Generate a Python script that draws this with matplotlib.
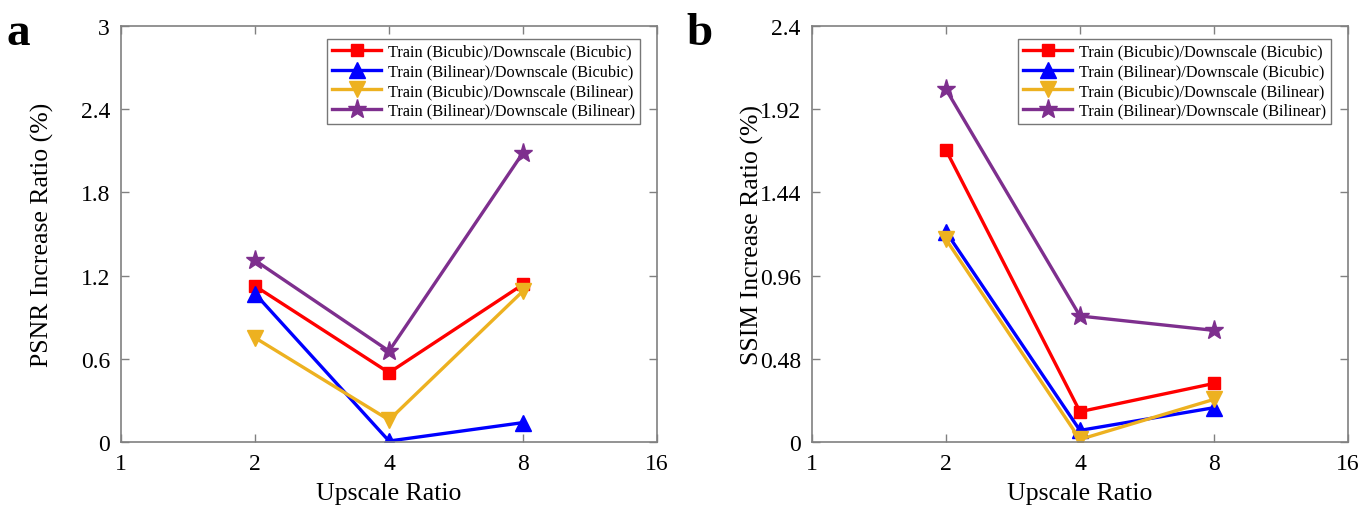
import numpy as np
import matplotlib
matplotlib.use("Agg")
import matplotlib.pyplot as plt

plt.rcParams['font.family'] = ['Liberation Serif', 'DejaVu Serif']

# upscale ratios and the increase ratios (%) for each train/downscale pairing
scales = [2, 4, 8]
series_names = [
    'Train (Bicubic)/Downscale (Bicubic)',
    'Train (Bilinear)/Downscale (Bicubic)',
    'Train (Bicubic)/Downscale (Bilinear)',
    'Train (Bilinear)/Downscale (Bilinear)',
]
psnr_bic_bic = [1.125, 0.50, 1.137]
psnr_bil_bic = [1.07, 0.007, 0.14]
psnr_bic_bil = [0.752, 0.159, 1.089]
psnr_bil_bil = [1.31, 0.656, 2.087]

ssim_bic_bic = [1.685, 0.175, 0.338]
ssim_bil_bic = [1.213, 0.067, 0.198]
ssim_bic_bil = [1.169, 0.015, 0.246]
ssim_bil_bil = [2.035, 0.727, 0.644]

x_ticks = [1, 2, 4, 8, 16]
psnr_ticks = [0, 0.6, 1.2, 1.8, 2.4, 3]
ssim_ticks = [0, 0.48, 0.96, 1.44, 1.92, 2.4]

colors = ['#FF0000', '#0000FF', '#EDB120', '#7E2F8E']
markers = ['s', '^', 'v', '*']
msizes = [9, 11, 11, 14]


def draw_panel(ax, data, yticks, ylabel, ypad):
    for vals, name, c, m, ms in zip(data, series_names, colors, markers, msizes):
        ax.plot(scales, vals, color=c, marker=m, markersize=ms, lw=2.4, label=name)
    ax.set_xscale('log', base=2)
    ax.set_xlim(1, 16)
    ax.set_xticks(x_ticks)
    ax.set_xticklabels([str(t) for t in x_ticks])
    ax.minorticks_off()
    ax.set_ylim(yticks[0], yticks[-1])
    ax.set_yticks(yticks)
    ax.set_yticklabels(['%g' % t for t in yticks])
    ax.tick_params(direction='in', top=True, right=True, labelsize=17,
                   length=6, width=1, color='#808080', pad=8)
    for s in ax.spines.values():
        s.set_color('#808080')
        s.set_linewidth(1.2)
    ax.set_xlabel('Upscale Ratio', fontsize=18.5, labelpad=6)
    ax.set_ylabel(ylabel, fontsize=18.5, labelpad=ypad)
    leg = ax.legend(loc='upper right', fontsize=11.8, frameon=True, fancybox=False,
                    edgecolor='#555555', handlelength=3.0, borderpad=0.3,
                    labelspacing=0.22, handletextpad=0.4, borderaxespad=0,
                    bbox_to_anchor=(0.968, 0.969))
    leg.get_frame().set_linewidth(1.0)
    return ax


fig = plt.figure(figsize=(13.72, 5.06), dpi=100)
ax1 = fig.add_axes([0.0882, 0.1245, 0.3907, 0.822])
ax2 = fig.add_axes([0.5918, 0.1245, 0.3907, 0.822])

draw_panel(ax1, [psnr_bic_bic, psnr_bil_bic, psnr_bic_bil, psnr_bil_bil],
           psnr_ticks, 'PSNR Increase Ratio (%)', 19)
draw_panel(ax2, [ssim_bic_bic, ssim_bil_bic, ssim_bic_bil, ssim_bil_bil],
           ssim_ticks, 'SSIM Increase Ratio (%)', -3)

fig.text(0.005, 0.912, 'a', fontsize=34, fontweight='bold')
fig.text(0.500, 0.912, 'b', fontsize=34, fontweight='bold')

fig.savefig('out.png', dpi=100)
